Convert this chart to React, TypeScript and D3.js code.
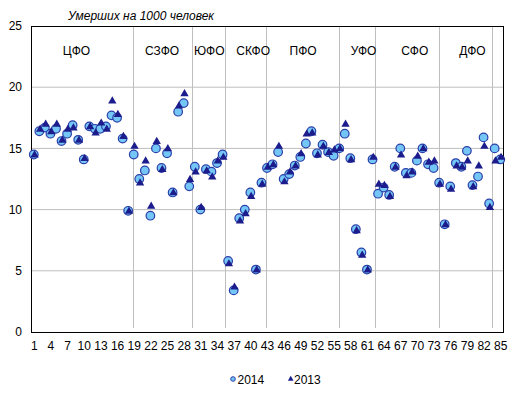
import React, { useRef, useEffect } from 'react';
import * as d3 from 'd3';

// Region numbers 1..85
const regions: number[] = d3.range(1, 86);

// Deaths per 1000 people, 2014
const values2014: number[] = [
  14.5, 16.4, 16.7, 16.2, 16.6, 15.6, 16.2, 16.9, 15.7, 14.1,
  16.8, 16.6, 16.6, 16.8, 17.7, 17.5, 15.8, 9.9, 14.5, 12.5,
  13.2, 9.5, 15.0, 13.4, 14.6, 11.4, 18.0, 18.7, 11.9, 13.5,
  10.0, 13.3, 13.1, 13.8, 14.5, 5.8, 3.4, 9.3, 10.0, 11.4,
  5.1, 12.2, 13.4, 13.7, 14.7, 12.5, 12.9, 13.6, 14.3, 15.4,
  16.4, 14.6, 15.3, 14.7, 14.4, 15.0, 16.2, 14.2, 8.4, 6.5,
  5.1, 14.1, 11.3, 11.8, 11.2, 13.5, 15.0, 13.0, 13.0, 14.0,
  15.0, 13.7, 13.4, 12.2, 8.8, 11.9, 13.8, 13.5, 14.8, 12.0,
  12.7, 15.9, 10.5, 15.0, 14.1,
];

// Deaths per 1000 people, 2013
const values2013: number[] = [
  14.5, 16.6, 17.0, 16.4, 17.0, 15.7, 16.6, 16.7, 15.7, 14.2,
  16.8, 16.3, 17.1, 16.6, 18.9, 17.8, 16.0, 9.9, 15.2, 12.2,
  14.0, 10.3, 15.6, 13.3, 15.0, 11.4, 18.5, 19.5, 12.5, 13.1,
  10.2, 13.2, 12.7, 14.0, 14.3, 5.6, 3.7, 9.1, 9.7, 11.1,
  5.1, 12.1, 13.5, 13.7, 15.2, 12.3, 13.1, 13.6, 14.6, 16.2,
  16.3, 14.5, 15.2, 14.7, 14.9, 15.0, 17.0, 14.1, 8.3, 6.3,
  5.1, 14.3, 12.1, 12.0, 11.1, 13.5, 14.5, 12.8, 13.1, 14.4,
  15.0, 13.9, 14.0, 12.1, 8.8, 11.7, 13.6, 13.5, 14.0, 11.9,
  13.6, 15.2, 10.2, 14.0, 14.3,
];

// Federal districts: label, label position (region units), boundary after it
const districts: string[] = ['ЦФО', 'СЗФО', 'ЮФО', 'СКФО', 'ПФО', 'УФО', 'СФО', 'ДФО'];
const districtLabelAt: number[] = [8.7, 24.1, 32.6, 40.5, 49.5, 60.4, 69.6, 80.0];
const districtBounds: number[] = [18.3, 29.05, 34.9, 42.3, 55.5, 62, 73.5, 83];

const xTicks: number[] = d3.range(1, 86, 3);
const yTicks: number[] = [0, 5, 10, 15, 20, 25];

const CIRCLE_FILL = '#74C6F7';
const CIRCLE_STROKE = '#2B3FA8';
const TRI_FILL = '#1C1C8C';

const Chart: React.FC<{ width?: number; height?: number }> = ({ width = 519, height = 398 }) => {
  const svgRef = useRef<SVGSVGElement>(null);

  useEffect(() => {
    if (!svgRef.current) return;
    const svg = d3.select(svgRef.current);
    svg.selectAll('*').remove();

    const margin = { top: 26, right: 16, bottom: 66, left: 31 };
    const innerWidth = width - margin.left - margin.right;
    const innerHeight = height - margin.top - margin.bottom;
    const font = '"Liberation Sans", Arial, sans-serif';

    const xScale = d3.scaleLinear().domain([0.5, 85.5]).range([0, innerWidth]);
    const yScale = d3.scaleLinear().domain([0, 25]).range([innerHeight, 0]);

    const g = svg.append('g').attr('transform', `translate(${margin.left},${margin.top})`);

    // horizontal grid
    g.append('g')
      .selectAll('line')
      .data(yTicks.filter((t) => t > 0 && t < 25))
      .enter()
      .append('line')
      .attr('x1', 0)
      .attr('x2', innerWidth)
      .attr('y1', (d) => yScale(d))
      .attr('y2', (d) => yScale(d))
      .attr('stroke', '#BEBEBE')
      .attr('stroke-width', 1);

    // district separators
    g.append('g')
      .selectAll('line')
      .data(districtBounds)
      .enter()
      .append('line')
      .attr('x1', (d) => Math.round(xScale(d + 0.5)) + 0.5)
      .attr('x2', (d) => Math.round(xScale(d + 0.5)) + 0.5)
      .attr('y1', 0)
      .attr('y2', innerHeight - 4)
      .attr('stroke', '#BEBEBE')
      .attr('stroke-width', 1);

    // frame
    g.append('rect')
      .attr('x', 0.5)
      .attr('y', 0.5)
      .attr('width', innerWidth)
      .attr('height', innerHeight)
      .attr('fill', 'none')
      .attr('stroke', '#000')
      .attr('stroke-width', 1);

    // y labels
    g.append('g')
      .selectAll('text')
      .data(yTicks)
      .enter()
      .append('text')
      .attr('x', -9)
      .attr('y', (d) => yScale(d))
      .attr('dy', '0.35em')
      .attr('text-anchor', 'end')
      .attr('font-family', font)
      .attr('font-size', 12)
      .attr('fill', '#000')
      .text((d) => d);

    // x labels
    g.append('g')
      .selectAll('text')
      .data(xTicks)
      .enter()
      .append('text')
      .attr('x', (d) => xScale(d) + 0.5)
      .attr('y', innerHeight + 18)
      .attr('text-anchor', 'middle')
      .attr('font-family', font)
      .attr('font-size', 12)
      .attr('fill', '#000')
      .text((d) => d);

    // district labels
    g.append('g')
      .selectAll('text')
      .data(districts)
      .enter()
      .append('text')
      .attr('x', (d, i) => xScale(districtLabelAt[i]))
      .attr('y', 29)
      .attr('text-anchor', 'middle')
      .attr('font-family', font)
      .attr('font-size', 12)
      .attr('fill', '#000')
      .text((d) => d);

    // title
    svg.append('text')
      .attr('x', 141)
      .attr('y', 20)
      .attr('text-anchor', 'middle')
      .attr('font-family', font)
      .attr('font-size', 12)
      .attr('font-style', 'italic')
      .attr('fill', '#000')
      .text('Умерших на 1000 человек');

    const tri = d3.symbol().type(d3.symbolTriangle).size(30);

    // 2014 circles
    g.append('g')
      .selectAll('circle')
      .data(regions)
      .enter()
      .append('circle')
      .attr('cx', (d) => xScale(d))
      .attr('cy', (d, i) => yScale(values2014[i]))
      .attr('r', 4.3)
      .attr('fill', CIRCLE_FILL)
      .attr('stroke', CIRCLE_STROKE)
      .attr('stroke-width', 1.2);

    // 2013 triangles
    g.append('g')
      .selectAll('path')
      .data(regions)
      .enter()
      .append('path')
      .attr('d', tri)
      .attr('transform', (d, i) => `translate(${xScale(d) + 0.8},${yScale(values2013[i]) + 0.5})`)
      .attr('fill', TRI_FILL);

    // legend
    const legend = svg.append('g').attr('font-family', font).attr('font-size', 12);
    legend.append('circle')
      .attr('cx', 233)
      .attr('cy', 379)
      .attr('r', 2.3)
      .attr('fill', CIRCLE_FILL)
      .attr('stroke', CIRCLE_STROKE)
      .attr('stroke-width', 1);
    legend.append('text').attr('x', 237.5).attr('y', 383.5).attr('fill', '#000').text('2014');
    legend.append('path')
      .attr('d', d3.symbol().type(d3.symbolTriangle).size(14)())
      .attr('transform', 'translate(290.7,379)')
      .attr('fill', TRI_FILL);
    legend.append('text').attr('x', 294).attr('y', 383.5).attr('fill', '#000').text('2013');
  }, [width, height]);

  return (
    <svg
      ref={svgRef}
      width={width}
      height={height}
      style={{ position: 'absolute', left: 0, top: 0, background: '#fff' }}
    />
  );
};

export default function App() {
  return <Chart width={519} height={398} />;
}
